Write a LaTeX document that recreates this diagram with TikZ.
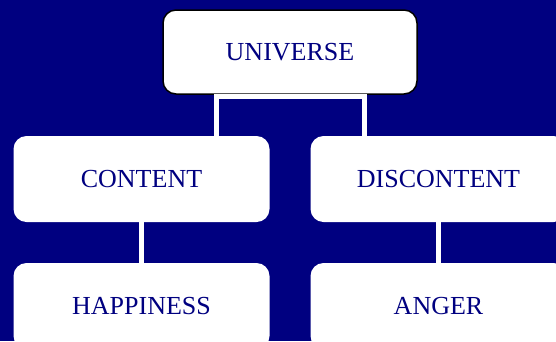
\documentclass[tikz,border=0pt]{standalone}
\usepackage{fontspec}
\setmainfont{Liberation Serif}
\definecolor{navybg}{RGB}{0,0,128}
\definecolor{navytext}{RGB}{0,0,128}
\begin{document}
\begin{tikzpicture}[x=1pt,y=-1pt,
  box/.style={fill=white, rounded corners=13pt, minimum width=256pt, minimum height=86pt,
    inner sep=0pt, text=navytext, font=\fontsize{26}{30}\selectfont},
  conn/.style={draw=white, line width=5pt},
]
\fill[navybg] (0,0) rectangle (556,341);
\useasboundingbox (0,0) rectangle (556,341);
\begin{scope}
\clip (0,0) rectangle (556,341);
\node[box, draw=black, line width=1.5pt, minimum width=254pt, minimum height=84pt] (u) at (290,52) {UNIVERSE};
\node[box] (c) at (141.5,179) {CONTENT};
\node[box] (d) at (438.5,179) {DISCONTENT};
\node[box] (h) at (141.5,306) {HAPPINESS};
\node[box] (a) at (438.5,306) {ANGER};
\coordinate (la) at (216,96);
\coordinate (ra) at (364,96);
\draw[conn] (la |- c.north) -- (la) -- (ra) -- (ra |- d.north);
\draw[conn] (c.south) -- (h.north);
\draw[conn] (d.south) -- (a.north);
\end{scope}
\end{tikzpicture}
\end{document}
